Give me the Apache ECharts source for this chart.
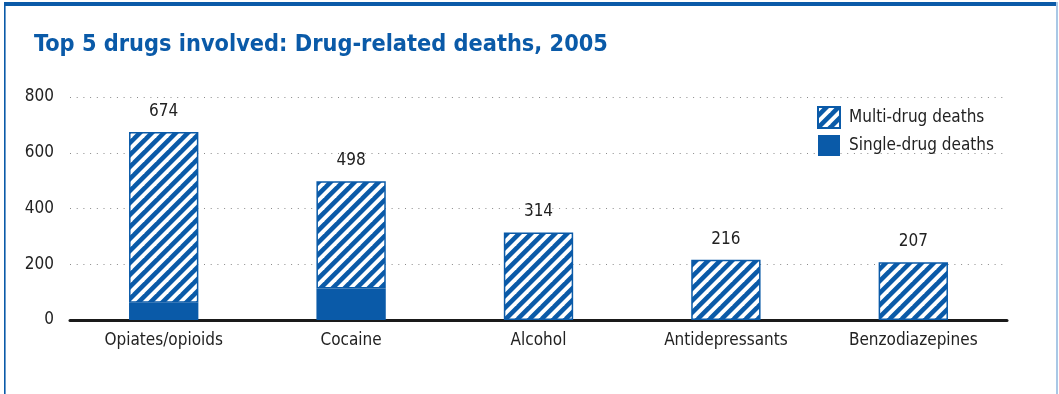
<!DOCTYPE html>
<html><head><meta charset="utf-8">
<script src="https://cdn.jsdelivr.net/npm/echarts@6/dist/echarts.min.js"></script>
<style>html,body{margin:0;padding:0;background:#fff}#c{width:1059px;height:394px}</style>
</head><body><div id="c"></div>
<script>
const categories = ['Opiates/opioids', 'Cocaine', 'Alcohol', 'Antidepressants', 'Benzodiazepines'];
const totals = [674, 498, 314, 216, 207];
const singleDeaths = [62, 113, 0, 0, 0];
const multiDeaths = totals.map((t, i) => t - singleDeaths[i]);
const yTicks = [0, 200, 400, 600, 800];

const BLUE = '#0a5aa8';
const FONT = "'Liberation Sans Narrow', 'DejaVu Sans Condensed', 'Noto Sans', sans-serif";

function stripe() {
  const s = 12, w = 5.5;
  const c = document.createElement('canvas');
  c.width = s; c.height = s;
  const g = c.getContext('2d');
  g.fillStyle = BLUE; g.fillRect(0, 0, s, s);
  g.fillStyle = '#ffffff';
  for (let k = -2; k <= 1; k++) {
    const x0 = k * s;
    g.beginPath();
    g.moveTo(x0, s); g.lineTo(x0 + w, s);
    g.lineTo(x0 + w + s, 0); g.lineTo(x0 + s, 0);
    g.closePath(); g.fill();
  }
  return c;
}

const chart = echarts.init(document.getElementById('c'), null, {renderer: 'canvas'});
chart.setOption({
  animation: false,
  textStyle: {fontFamily: FONT},
  title: {
    text: 'Top 5 drugs involved: Drug-related deaths, 2005',
    left: 29, top: 28,
    textStyle: {color: BLUE, fontSize: 23.3, fontWeight: 'bold', fontFamily: FONT}
  },
  graphic: [
    {type: 'rect', shape: {x: 4, y: 2, width: 1054, height: 4}, style: {fill: BLUE}},
    {type: 'rect', shape: {x: 4, y: 2, width: 1.6, height: 392}, style: {fill: BLUE}},
    {type: 'rect', shape: {x: 1056, y: 2, width: 2, height: 392}, style: {fill: '#a9c8e6'}}
  ],
  legend: {
    data: ['Multi-drug deaths', 'Single-drug deaths'],
    orient: 'vertical',
    left: 812, top: 101,
    icon: 'rect',
    itemWidth: 22, itemHeight: 21, itemGap: 6,
    textStyle: {fontSize: 17, color: '#222', fontFamily: FONT, padding: [0, 0, 0, 4]}
  },
  grid: {left: 70, right: 52, top: 97, bottom: 74, containLabel: false},
  xAxis: {
    type: 'category', data: categories,
    axisLine: {lineStyle: {color: '#1a1a1a', width: 3}},
    axisTick: {show: false},
    axisLabel: {fontSize: 17, color: '#222', margin: 12, fontFamily: FONT}
  },
  yAxis: {
    type: 'value', min: yTicks[0], max: yTicks[yTicks.length - 1], interval: 200,
    axisLine: {show: false}, axisTick: {show: false},
    axisLabel: {fontSize: 17, color: '#222', margin: 16, fontFamily: FONT, padding: [4, 0, 0, 0]},
    splitLine: {lineStyle: {color: '#8a8a8a', width: 1, type: [1, 5.7]}}
  },
  series: [
    {
      name: 'Single-drug deaths', type: 'bar', stack: 'a', data: singleDeaths,
      barWidth: '37%',
      itemStyle: {color: BLUE}
    },
    {
      name: 'Multi-drug deaths', type: 'bar', stack: 'a', data: multiDeaths,
      barWidth: '37%',
      itemStyle: {color: {image: stripe(), repeat: 'repeat'}, borderColor: BLUE, borderWidth: 1.5},
      label: {
        show: true, position: 'top', distance: 12,
        fontSize: 17, color: '#222', fontFamily: FONT,
        formatter: p => String(totals[p.dataIndex])
      }
    }
  ]
});
</script></body></html>
